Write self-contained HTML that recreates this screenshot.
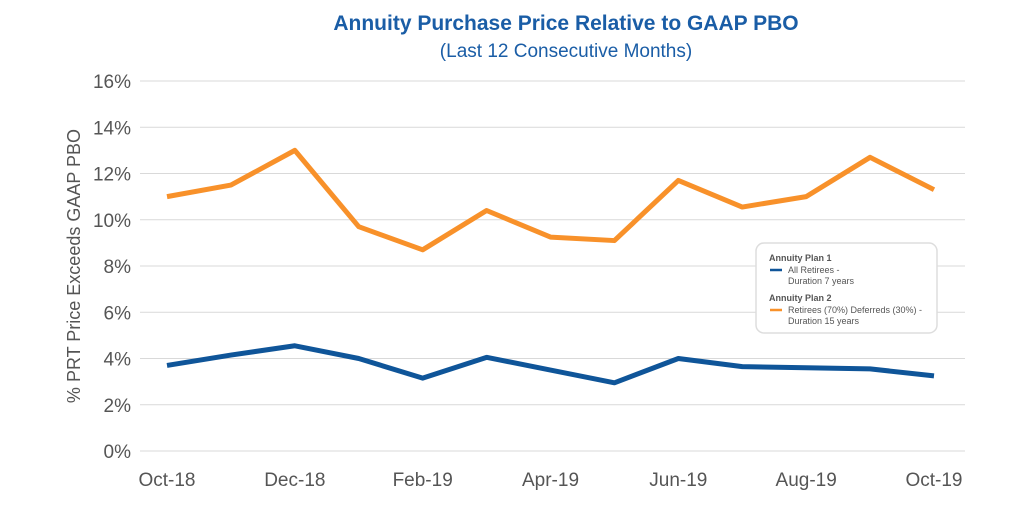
<!DOCTYPE html>
<html><head><meta charset="utf-8">
<style>
body{margin:0;background:#fff;width:1024px;height:512px;overflow:hidden;font-family:"Liberation Sans",sans-serif}
</style></head>
<body>
<svg id="chart" width="1024" height="512" xmlns="http://www.w3.org/2000/svg">
<text x="566" y="30" text-anchor="middle" font-size="21" font-weight="bold" fill="#1a5da6">Annuity Purchase Price Relative to GAAP PBO</text>
<text x="566" y="57" text-anchor="middle" font-size="19" fill="#1a5da6">(Last 12 Consecutive Months)</text>
<text transform="translate(80,266) rotate(-90)" text-anchor="middle" font-size="18" fill="#555">% PRT Price Exceeds GAAP PBO</text>
<g id="grid"></g><g id="series"></g>
<g>
<rect x="756" y="243" width="181" height="90" rx="8" fill="#fff" stroke="#ddd" stroke-width="1.5"/>
<text x="769" y="261" font-size="9" font-weight="bold" fill="#555">Annuity Plan 1</text>
<line x1="770" y1="270" x2="782" y2="270" stroke="#0f5599" stroke-width="2.5"/>
<text x="788" y="273" font-size="9" fill="#555">All Retirees -</text>
<text x="788" y="284" font-size="9" fill="#555">Duration 7 years</text>
<text x="769" y="301" font-size="9" font-weight="bold" fill="#555">Annuity Plan 2</text>
<line x1="770" y1="310" x2="782" y2="310" stroke="#f8912a" stroke-width="2.5"/>
<text x="788" y="313" font-size="9" fill="#555">Retirees (70%) Deferreds (30%) -</text>
<text x="788" y="324" font-size="9" fill="#555">Duration 15 years</text>
</g>
</svg>
<script>
const categories=["Oct-18","Nov-18","Dec-18","Jan-19","Feb-19","Mar-19","Apr-19","May-19","Jun-19","Jul-19","Aug-19","Sep-19","Oct-19"];
const plan2=[11.0,11.5,13.0,9.7,8.7,10.4,9.25,9.1,11.7,10.55,11.0,12.7,11.3];
const plan1=[3.7,4.15,4.55,4.0,3.15,4.05,3.5,2.95,4.0,3.65,3.6,3.55,3.25];
const yTicks=[0,2,4,6,8,10,12,14,16];
const NS="http://www.w3.org/2000/svg";
const x=i=>167+i*(934-167)/(categories.length-1);
const y=v=>451-v*(451-81)/16;
const grid=document.getElementById('grid'),ser=document.getElementById('series');
function mk(t,a,p){const e=document.createElementNS(NS,t);for(const k in a)e.setAttribute(k,a[k]);p.appendChild(e);return e;}
yTicks.forEach(v=>{
 const l=mk('line',{x1:140,x2:965,y1:y(v),y2:y(v),stroke:'#d9d9d9','stroke-width':1},grid);
 
 
 const t=mk('text',{x:131,y:y(v)+7,'text-anchor':'end','font-size':19,fill:'#555'},grid);
 t.textContent=v+'%';
 
 
});
categories.forEach((c,i)=>{if(i%2)return;
 const t=mk('text',{x:x(i),y:486,'text-anchor':'middle','font-size':19,fill:'#555'},grid);
 t.textContent=c;
 
 
});
[[plan2,'#f8912a','plan2-line'],[plan1,'#0f5599','plan1-line']].forEach(([d,c,n])=>{
 const p=mk('polyline',{points:d.map((v,i)=>x(i)+','+y(v)).join(' '),fill:'none',stroke:c,'stroke-width':5,'stroke-linejoin':'round'},ser);
 
 
});
</script>
</body></html>
